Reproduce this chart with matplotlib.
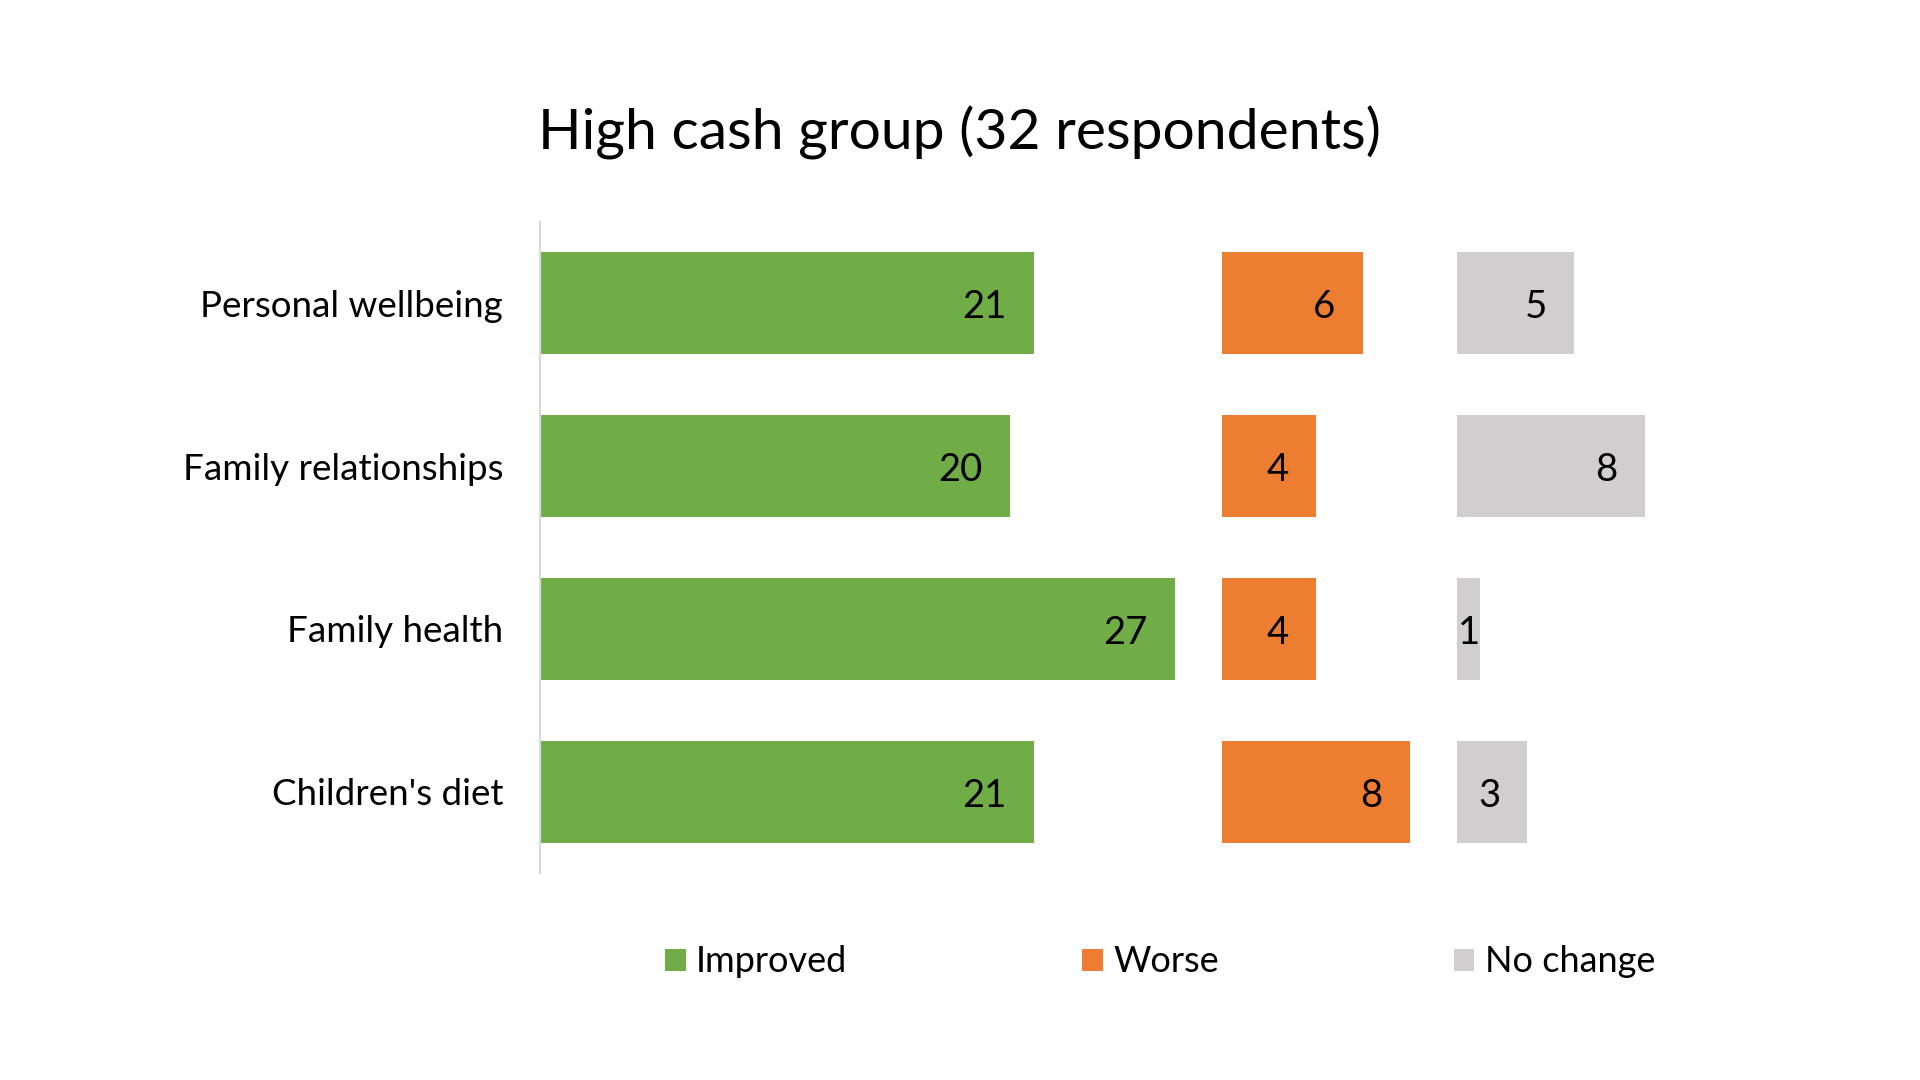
import matplotlib
matplotlib.use("Agg")
import matplotlib.pyplot as plt
from matplotlib.patches import Patch
from matplotlib.transforms import offset_copy

plt.rcParams['font.family'] = ['Lato', 'DejaVu Sans']

categories = ["Personal wellbeing", "Family relationships", "Family health", "Children's diet"]
improved = [21, 20, 27, 21]
worse = [6, 4, 4, 8]
no_change = [5, 8, 1, 3]
series_names = ["Improved", "Worse", "No change"]
colors = ["#70AD47", "#ED7D31", "#D0CECE"]
title = "High cash group (32 respondents)"

# panel starting offsets on the shared value scale
offsets = [0, 29, 39]

W, H, DPI = 1920, 1080, 100
fig = plt.figure(figsize=(W / DPI, H / DPI), dpi=DPI)
fig.patch.set_facecolor("white")

ax_left, ax_right_units, unit_px = 540, 48, 23.5
ax_top, ax_bot = 222, 873
ax = fig.add_axes([ax_left / W, 1 - ax_bot / H, ax_right_units * unit_px / W, (ax_bot - ax_top) / H])

ypos = list(range(len(categories)))
bar_h = 0.627
cat_fs = 26.5
val_fs = 27.5
leg_fs = 26
all_series = [improved, worse, no_change]
texts = []
for vals, off, col in zip(all_series, offsets, colors):
    ax.barh(ypos, vals, left=off, height=bar_h, color=col, edgecolor="none")
    for y, v in zip(ypos, vals):
        tr = offset_copy(ax.transData, fig=fig, x=-27, y=-4, units="dots")
        t = ax.text(off + v, y, str(v), transform=tr, ha="right", va="center",
                    fontsize=val_fs, color="black")
        texts.append((t, off, y))

ax.set_xlim(0, ax_right_units)
ax.set_ylim(len(categories) - 0.5, -0.5)
ax.set_yticks(ypos)
ax.set_yticklabels(categories, fontsize=cat_fs)
ax.tick_params(axis="y", length=0, pad=26.5)
ax.set_xticks([])
for s in ["top", "right", "bottom"]:
    ax.spines[s].set_visible(False)
ax.spines["left"].set_color("#D9D9D9")
ax.spines["left"].set_linewidth(1.6)
ax.set_facecolor("white")

fig.text(0.5, 1 - 150 / H, title, ha="center", va="baseline", fontsize=41, color="black")

handles = [Patch(facecolor=c, edgecolor="none") for c in colors]
fig.legend(handles, series_names, loc="center", bbox_to_anchor=(1160 / W, 1 - 962 / H),
           ncol=3, frameon=False, fontsize=leg_fs, handlelength=0.58, handleheight=0.58,
           handletextpad=0.28, columnspacing=6.5)

# keep labels inside narrow bars: clamp so label does not start before bar base
fig.canvas.draw()
renderer = fig.canvas.get_renderer()
for t, off, y in texts:
    bb = t.get_window_extent(renderer)
    base_px = ax.transData.transform((off, y))[0]
    if bb.x0 < base_px + 1:
        shift = base_px + 1 - bb.x0
        t.set_transform(offset_copy(t.get_transform(), fig=fig, x=shift, y=0, units="dots"))

fig.savefig("out.png", dpi=DPI, facecolor="white")
